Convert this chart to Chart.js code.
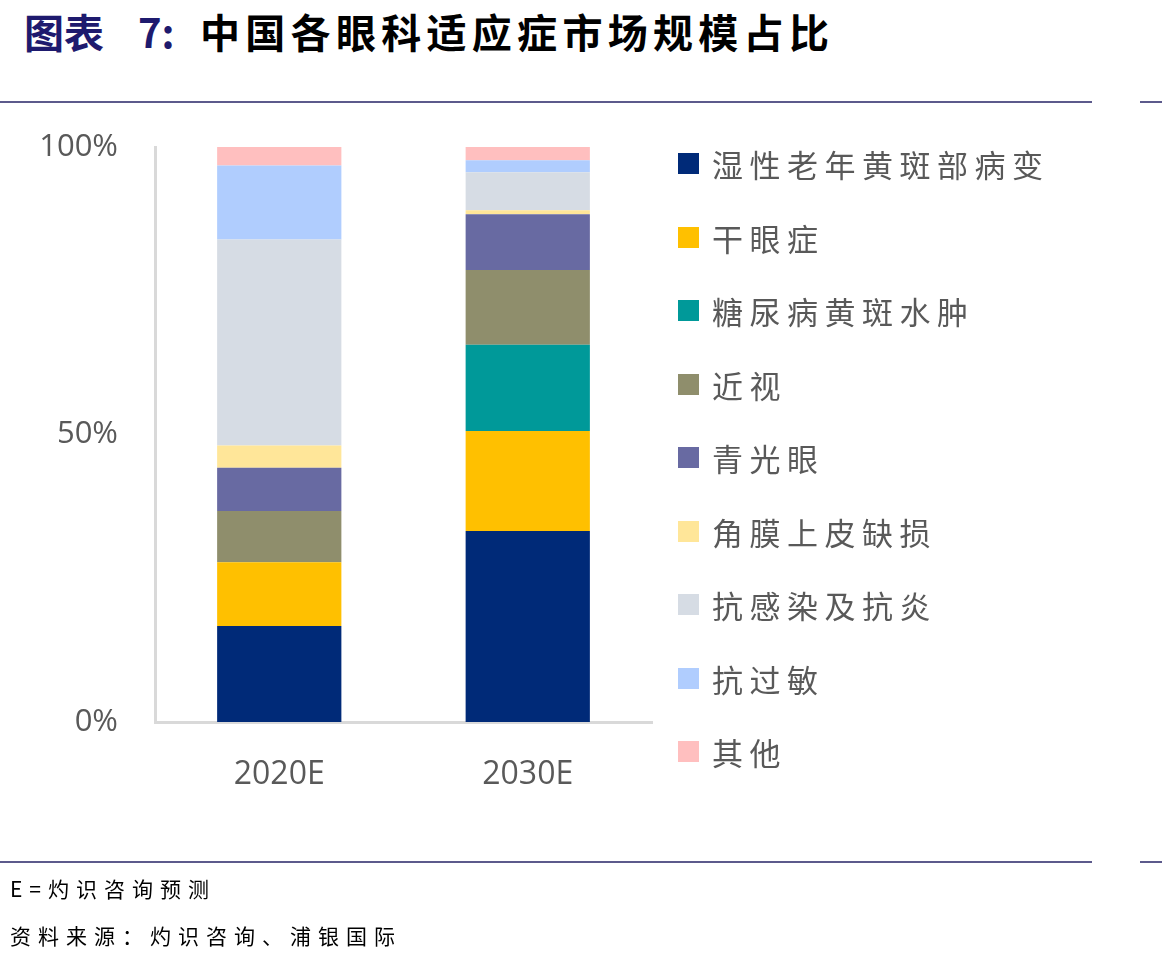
<!DOCTYPE html>
<html>
<head>
<meta charset="utf-8">
<script src="https://cdn.jsdelivr.net/npm/chart.js@4/dist/chart.umd.min.js"></script>
<style>
    body { margin: 0; width: 1162px; height: 965px; background: #fff; position: relative; overflow: hidden; font-family: "Noto Sans CJK SC", sans-serif; }
    #title { position: absolute; left: 24px; top: 1px; font-size: 40px; line-height: 60px; font-weight: bold; color: #000; white-space: nowrap; }
    #title .lead { color: #1e1a6e; }
    #title .main { position: absolute; left: 176px; top: 0; letter-spacing: 5.3px; }
    .rule { position: absolute; height: 2px; background: #5c5a8c; }
    #chartBox { position: absolute; left: 0; top: 0; width: 1162px; height: 965px; }
    #legend { position: absolute; left: 678px; top: 0; }
    .item { position: absolute; left: 0; white-space: nowrap; display: flex; align-items: center; }
    .box { width: 21px; height: 21px; margin-right: 13px; }
    .item span { font-size: 31px; color: #595959; letter-spacing: 6.5px; }
    .note { position: absolute; left: 10px; font-size: 21px; color: #000; letter-spacing: 7px; white-space: nowrap; }
</style>
</head>
<body>
<div id="title"><span class="lead">图表<span style="margin-left:34px">7:</span></span><span class="main">中国各眼科适应症市场规模占比</span></div>
<div class="rule" style="left:0; width:1092px; top:101px;"></div>
<div class="rule" style="left:1140px; width:22px; top:101px;"></div>
<div id="chartBox"><canvas id="marketChart" width="1162" height="965"></canvas></div>
<div id="legend"></div>
<div class="rule" style="left:0; width:1092px; top:861px;"></div>
<div class="rule" style="left:1140px; width:22px; top:861px;"></div>
<div class="note" style="top:873px;">E=灼识咨询预测</div>
<div class="note" style="top:920px;">资料来源：灼识咨询、浦银国际</div>
<script>
const years = ['2020E', '2030E'];
const indications = ['湿性老年黄斑部病变', '干眼症', '糖尿病黄斑水肿', '近视', '青光眼', '角膜上皮缺损', '抗感染及抗炎', '抗过敏', '其他'];
const colors = ['#002a78', '#ffc000', '#009999', '#8f8e6c', '#686aa2', '#ffe699', '#d6dce4', '#b0cdfe', '#ffbfbf'];

// share (%) per indication, [2020E, 2030E]
const wetAmd = [16.7, 33.2];
const dryEye = [11.1, 17.4];
const dme = [0, 15.0];
const myopia = [8.9, 13.0];
const glaucoma = [7.5, 9.7];
const cornealDefect = [3.9, 0.7];
const antiInfective = [35.8, 6.6];
const antiAllergy = [12.9, 2.1];
const others = [3.2, 2.3];
const yTicks = [0, 50, 100];

const seriesValues = [wetAmd, dryEye, dme, myopia, glaucoma, cornealDefect, antiInfective, antiAllergy, others];

const datasets = indications.map((name, i) => ({
    label: name,
    data: seriesValues[i],
    backgroundColor: colors[i],
    borderWidth: 0,
    categoryPercentage: 1,
    barPercentage: 0.5,
}));

// legend built from the same arrays
const legend = document.getElementById('legend');
indications.forEach((name, i) => {
    const row = document.createElement('div');
    row.className = 'item';
    row.style.top = (141 + i * 73.5) + 'px';
    row.innerHTML = `<div class="box" style="background:${colors[i]}"></div><span>${name}</span>`;
    legend.appendChild(row);
});

const ctx = document.getElementById('marketChart').getContext('2d');
new Chart(ctx, {
    type: 'bar',
    data: { labels: years, datasets: datasets },
    options: {
        responsive: false,
        animation: false,
        layout: { padding: { top: 147, right: 510, bottom: 0, left: 0 } },
        plugins: { legend: { display: false }, tooltip: { enabled: false } },
        scales: {
            x: {
                stacked: true,
                grid: { display: false },
                border: { display: true, color: '#d9d9d9', width: 3 },
                ticks: { color: '#595959', font: { size: 32, family: 'Open Sans' }, padding: 26 },
                afterFit: (scale) => { scale.height = 965 - 722; },
            },
            y: {
                stacked: true,
                min: 0,
                max: 100,
                afterBuildTicks: (scale) => { scale.ticks = yTicks.map(v => ({ value: v })); },
                grid: { display: false, drawTicks: false },
                border: { display: true, color: '#d9d9d9', width: 3 },
                ticks: {
                    color: '#595959',
                    font: { size: 31, family: 'Open Sans' },
                    padding: 37,
                    callback: (v) => v + '%',
                },
                afterFit: (scale) => { scale.width = 155; },
            },
        },
    },
});
</script>
</body>
</html>
